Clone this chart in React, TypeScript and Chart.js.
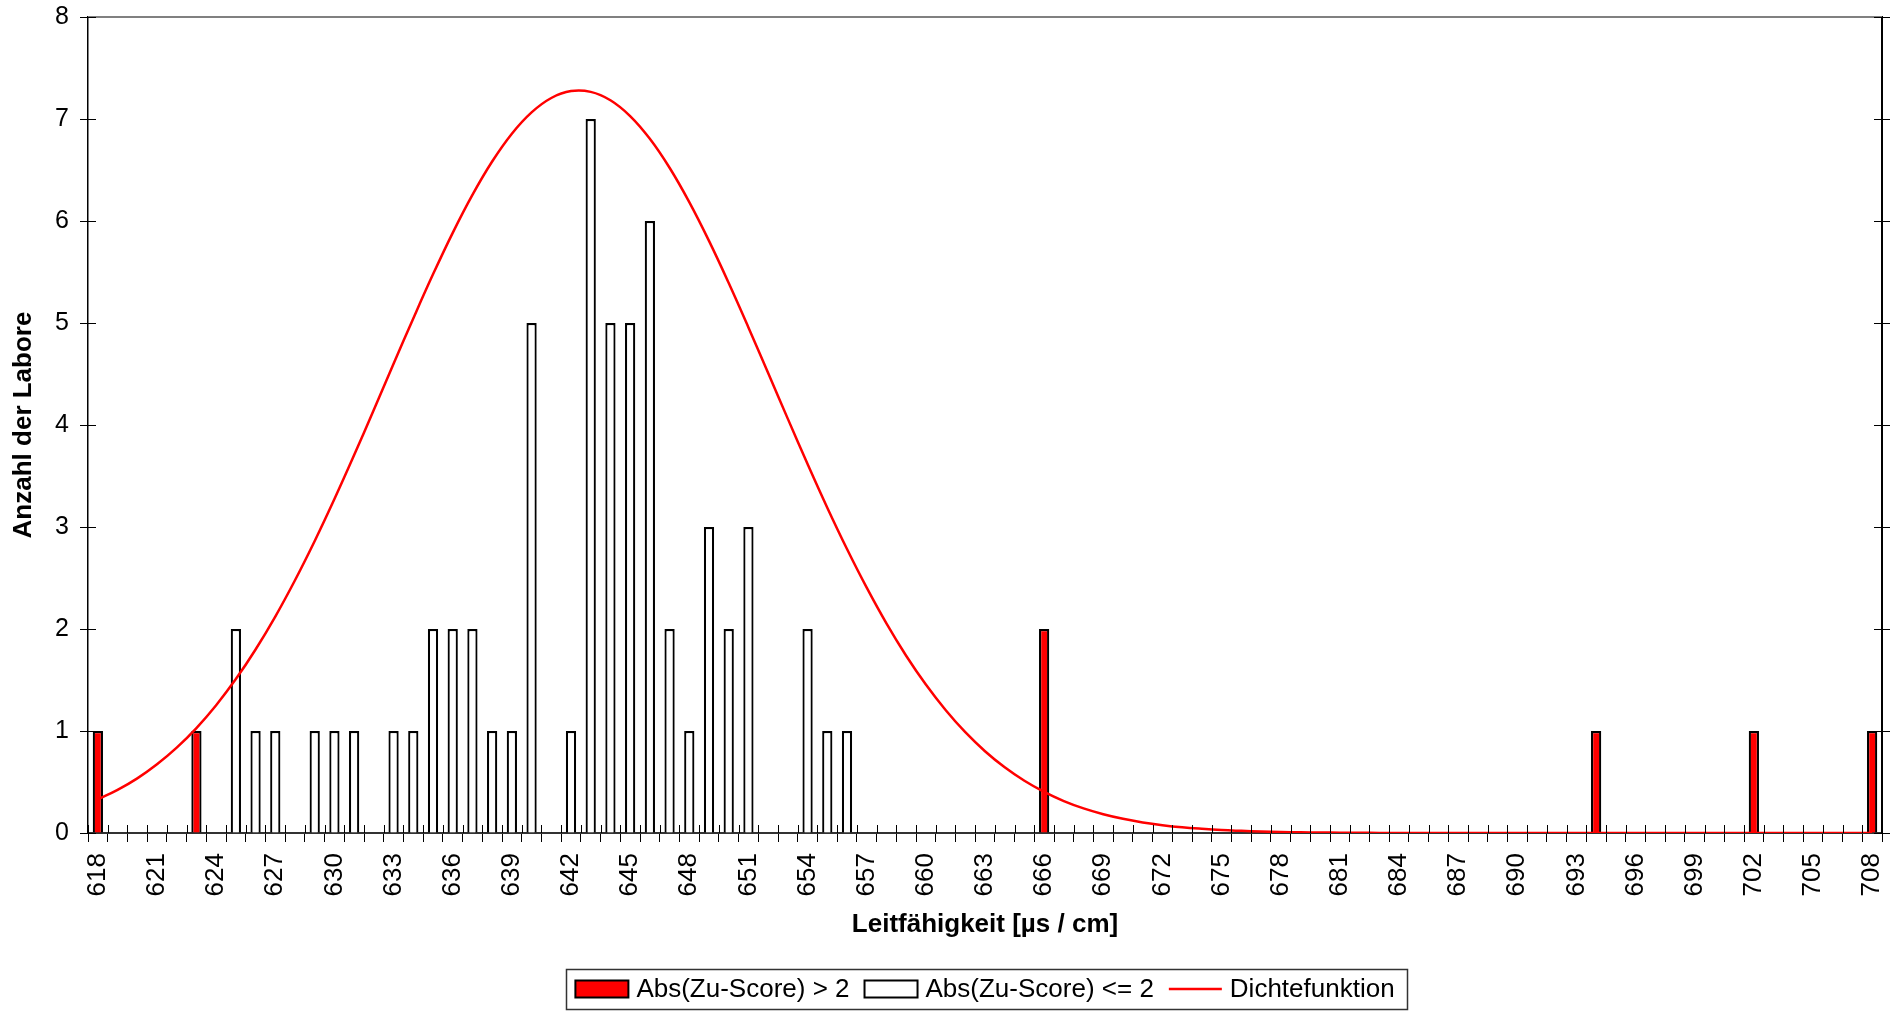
import React, { useEffect, useRef } from 'react';
import { Chart, registerables } from 'chart.js';

Chart.register(...registerables);

const FONT = "'Liberation Sans', Arial, Helvetica, sans-serif";
const RED = '#ff0000';

// Histogram bins (µs / cm)
const bins = [
  618, 619, 620, 621, 622, 623, 624, 625, 626, 627, 628, 629, 630, 631, 632, 633, 634, 635, 636, 637,
  638, 639, 640, 641, 642, 643, 644, 645, 646, 647, 648, 649, 650, 651, 652, 653, 654, 655, 656, 657,
  658, 659, 660, 661, 662, 663, 664, 665, 666, 667, 668, 669, 670, 671, 672, 673, 674, 675, 676, 677,
  678, 679, 680, 681, 682, 683, 684, 685, 686, 687, 688, 689, 690, 691, 692, 693, 694, 695, 696, 697,
  698, 699, 700, 701, 702, 703, 704, 705, 706, 707, 708,
];

// Abs(Zu-Score) > 2
const outlierBins = [618, 623, 666, 694, 702, 708];
const outlierCounts = [1, 1, 2, 1, 1, 1];

// Abs(Zu-Score) <= 2
const inlierBins = [
  625, 626, 627, 629, 630, 631, 633, 634, 635, 636, 637, 638, 639, 640,
  642, 643, 644, 645, 646, 647, 648, 649, 650, 651, 654, 655, 656,
];
const inlierCounts = [
  2, 1, 1, 1, 1, 1, 1, 1, 2, 2, 2, 1, 1, 5,
  1, 7, 5, 5, 6, 2, 1, 3, 2, 3, 2, 1, 1,
];

// Dichtefunktion, read at each bin
const density = [
  0.330, 0.423, 0.536, 0.674, 0.837, 1.029, 1.253, 1.509, 1.799, 2.122,
  2.478, 2.863, 3.274, 3.705, 4.150, 4.600, 5.045, 5.477, 5.884, 6.256,
  6.583, 6.856, 7.065, 7.206, 7.274, 7.266, 7.184, 7.029, 6.806, 6.522,
  6.185, 5.805, 5.392, 4.957, 4.509, 4.060, 3.617, 3.189, 2.784, 2.405,
  2.055, 1.738, 1.455, 1.206, 0.988, 0.802, 0.644, 0.512, 0.403, 0.313,
  0.241, 0.184, 0.139, 0.104, 0.077, 0.056, 0.041, 0.029, 0.021, 0.014,
  0.010, 0.007, 0.005, 0.003, 0.002, 0.001, 0, 0, 0, 0,
  0, 0, 0, 0, 0, 0, 0, 0, 0, 0,
  0, 0, 0, 0, 0, 0, 0, 0, 0, 0,
  0,
];

const xTickLabels = [
  618, 621, 624, 627, 630, 633, 636, 639, 642, 645, 648, 651, 654, 657, 660, 663,
  666, 669, 672, 675, 678, 681, 684, 687, 690, 693, 696, 699, 702, 705, 708,
];
const yMin = 0;
const yMax = 8;
const yStep = 1;

const seriesLabels = ['Abs(Zu-Score) > 2', 'Abs(Zu-Score) <= 2', 'Dichtefunktion'];

export default function App() {
  const ref = useRef<HTMLCanvasElement>(null);

  useEffect(() => {
    const canvas = ref.current;
    if (!canvas) return;

    const redData = bins.map((b) => {
      const i = outlierBins.indexOf(b);
      return i >= 0 ? outlierCounts[i] : null;
    });
    const whiteData = bins.map((b) => {
      const i = inlierBins.indexOf(b);
      return i >= 0 ? inlierCounts[i] : null;
    });

    const frameTicks = {
      id: 'frameTicks',
      afterDatasetsDraw(chart: any) {
        const { ctx, chartArea, scales } = chart;
        const { left, right, top, bottom } = chartArea;
        ctx.save();
        // top border
        ctx.strokeStyle = '#808080';
        ctx.lineWidth = 2;
        ctx.beginPath();
        ctx.moveTo(left, top);
        ctx.lineTo(right, top);
        ctx.stroke();
        // inner tick marks
        ctx.strokeStyle = '#000';
        ctx.lineWidth = 1;
        const ys = scales.y;
        ys.ticks.forEach((t: any) => {
          const py = Math.round(ys.getPixelForValue(t.value)) + 0.5;
          ctx.beginPath();
          ctx.moveTo(left, py);
          ctx.lineTo(left + 8, py);
          ctx.moveTo(right - 8, py);
          ctx.lineTo(right, py);
          ctx.stroke();
        });
        const xs = scales.x;
        const n = chart.data.labels.length;
        const w = xs.getPixelForValue(1) - xs.getPixelForValue(0);
        const x0 = xs.getPixelForValue(0) - w / 2;
        for (let i = 0; i <= n; i++) {
          const px = Math.round(x0 + i * w) + 0.5;
          ctx.beginPath();
          ctx.moveTo(px, bottom);
          ctx.lineTo(px, bottom - 8);
          ctx.stroke();
        }
        ctx.restore();
      },
    };

    const boxedLegend = {
      id: 'boxedLegend',
      afterDraw(chart: any) {
        const { ctx, chartArea } = chart;
        const ds = chart.data.datasets;
        const fontSize = 26;
        ctx.save();
        ctx.font = `${fontSize}px ${FONT}`;
        const boxW = 53;
        const boxH = 17;
        const gapBT = 8;
        const gapItem = 15;
        const padL = 9;
        const padR = 13;
        const widths = ds.map((d: any) => boxW + gapBT + ctx.measureText(d.label).width);
        const total = widths.reduce((a: number, b: number) => a + b, 0) + gapItem * (ds.length - 1);
        const cx = (chartArea.left + chartArea.right) / 2;
        const cy = chart.height - 22;
        let x = cx - total / 2;
        ctx.strokeStyle = '#333';
        ctx.lineWidth = 1.5;
        ctx.strokeRect(Math.round(x - padL) + 0.5, Math.round(cy - 20) + 0.5, Math.round(total + padL + padR), 40);
        ctx.textBaseline = 'middle';
        ctx.textAlign = 'left';
        ds.forEach((d: any, i: number) => {
          if (d.type === 'line') {
            ctx.strokeStyle = d.borderColor;
            ctx.lineWidth = 2.5;
            ctx.beginPath();
            ctx.moveTo(x, cy);
            ctx.lineTo(x + boxW, cy);
            ctx.stroke();
          } else {
            ctx.fillStyle = d.backgroundColor;
            ctx.fillRect(x, cy - boxH / 2, boxW, boxH);
            ctx.strokeStyle = '#000';
            ctx.lineWidth = 2;
            ctx.strokeRect(x, cy - boxH / 2, boxW, boxH);
          }
          ctx.fillStyle = '#000';
          ctx.fillText(d.label, x + boxW + gapBT, cy + 1);
          x += widths[i] + gapItem;
        });
        ctx.restore();
      },
    };

    const chart = new Chart(canvas, {
      type: 'bar',
      data: {
        labels: bins.map(String),
        datasets: [
          {
            type: 'bar',
            label: seriesLabels[0],
            data: redData,
            backgroundColor: RED,
            borderColor: '#000',
            borderWidth: 2.2,
            barPercentage: 0.52,
            categoryPercentage: 1,
            grouped: false,
            order: 2,
          } as any,
          {
            type: 'bar',
            label: seriesLabels[1],
            data: whiteData,
            backgroundColor: '#ffffff',
            borderColor: '#000',
            borderWidth: 2.2,
            barPercentage: 0.52,
            categoryPercentage: 1,
            grouped: false,
            order: 2,
          } as any,
          {
            type: 'line',
            label: seriesLabels[2],
            data: density,
            borderColor: RED,
            backgroundColor: RED,
            borderWidth: 2.5,
            pointRadius: 0,
            tension: 0.4,
            order: 1,
          } as any,
        ],
      },
      options: {
        responsive: false,
        animation: false,
        devicePixelRatio: 1,
        layout: { padding: { top: 17, left: 0, right: 0, bottom: 61 } },
        plugins: {
          legend: { display: false },
          tooltip: { enabled: false },
        },
        scales: {
          x: {
            type: 'category',
            offset: true,
            grid: {
              display: true,
              drawOnChartArea: false,
              drawTicks: true,
              tickLength: 9,
              color: '#000',
              lineWidth: 1,
              offset: true,
            },
            border: { display: true, color: '#333', width: 2 },
            ticks: {
              autoSkip: false,
              maxRotation: 90,
              minRotation: 90,
              padding: 11,
              color: '#000',
              font: { family: FONT, size: 26 },
              callback: (_v: any, index: number) =>
                xTickLabels.includes(bins[index]) ? String(bins[index]) : '',
            },
            title: {
              display: true,
              text: 'Leitfähigkeit [µs / cm]',
              color: '#000',
              font: { family: FONT, size: 26, weight: 'bold' },
              padding: { top: 0, bottom: 10 },
            },
            afterFit: (s: any) => {
              s.height = 117;
              s.paddingLeft = 0;
              s.paddingRight = 0;
            },
          },
          y: {
            position: 'left',
            min: yMin,
            max: yMax,
            ticks: {
              stepSize: yStep,
              padding: 11,
              color: '#000',
              font: { family: FONT, size: 25 },
            },
            grid: { drawOnChartArea: false, drawTicks: true, tickLength: 8, color: '#000', lineWidth: 1 },
            border: { display: true, color: '#000', width: 1.5 },
            title: {
              display: true,
              text: 'Anzahl der Labore',
              color: '#000',
              font: { family: FONT, size: 26, weight: 'bold' },
              padding: { top: 8, bottom: 0 },
            },
            afterFit: (s: any) => {
              s.width = 88;
              s.paddingTop = 0;
              s.paddingBottom = 0;
            },
          },
          y2: {
            position: 'right',
            min: yMin,
            max: yMax,
            ticks: { display: false, stepSize: yStep },
            grid: { drawOnChartArea: false, drawTicks: true, tickLength: 8, color: '#000', lineWidth: 1 },
            border: { display: true, color: '#000', width: 2 },
            afterFit: (s: any) => {
              s.width = 17;
              s.paddingTop = 0;
              s.paddingBottom = 0;
            },
          },
        },
      } as any,
      plugins: [frameTicks, boxedLegend],
    });

    return () => chart.destroy();
  }, []);

  return (
    <div style={{ position: 'fixed', left: 0, top: 0, width: 1899, height: 1011, background: '#fff' }}>
      <canvas ref={ref} width={1899} height={1011} style={{ display: 'block', width: 1899, height: 1011 }} />
    </div>
  );
}
